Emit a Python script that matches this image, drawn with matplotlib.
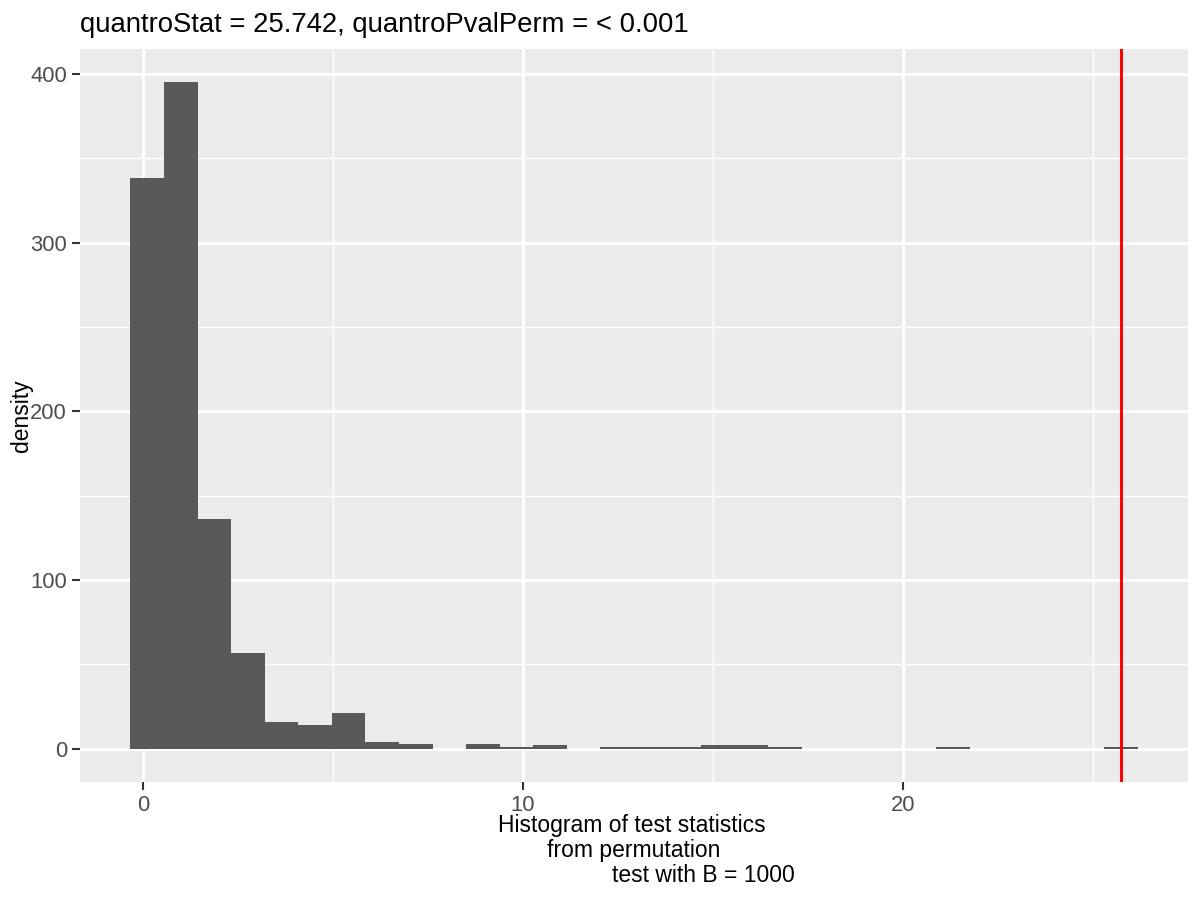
import numpy as np
import matplotlib
matplotlib.use("Agg")
import matplotlib.pyplot as plt
from matplotlib.ticker import FixedLocator

# ---- data ----
bin_counts = [338, 395, 136, 57, 16, 14, 21, 4, 3, 0,
              3, 1, 2, 0, 1, 1, 1, 2, 2, 1,
              0, 0, 0, 0, 1, 0, 0, 0, 0, 1]
stat_min = 0.100          # smallest permutation statistic (center of first bin)
stat_max = 25.742         # largest statistic (center of last bin)
quantro_stat = 25.742
title_text = "quantroStat = 25.742, quantroPvalPerm = < 0.001"
x_ticks = [0, 10, 20]
y_ticks = [0, 100, 200, 300, 400]
x_label_lines = ["Histogram of test statistics", "from permutation", "test with B = 1000"]
y_label = "density"

# ---- style ----
plt.rcParams['font.family'] = ['Liberation Sans', 'DejaVu Sans']
BG = "#EBEBEB"
BAR = "#595959"
TICKCOL = "#4D4D4D"
TICKLINE = "#333333"

fig = plt.figure(figsize=(8, 6), dpi=150)
W, H = 1200, 900
left, right, top, bottom = 80, 1188, 49, 782
ax = fig.add_axes([left / W, 1 - bottom / H, (right - left) / W, (bottom - top) / H])
ax.set_facecolor(BG)

n_bins = len(bin_counts)
width = (stat_max - stat_min) / (n_bins - 1)
centers = stat_min + width * np.arange(n_bins)
ax.bar(centers, bin_counts, width=width, color=BAR, linewidth=0, zorder=3)
ax.axvline(quantro_stat, color="red", linewidth=1.42, zorder=4)

# limits with ggplot-like 5% expansion
xlo = min(centers[0] - width / 2, quantro_stat)
xhi = max(centers[-1] + width / 2, quantro_stat)
xr = xhi - xlo
ax.set_xlim(xlo - 0.05 * xr, xhi + 0.05 * xr)
ymax = max(bin_counts)
ax.set_ylim(-0.05 * ymax, ymax * 1.05)

ax.xaxis.set_major_locator(FixedLocator(x_ticks))
ax.yaxis.set_major_locator(FixedLocator(y_ticks))
ax.xaxis.set_minor_locator(FixedLocator([5, 15, 25]))
ax.yaxis.set_minor_locator(FixedLocator([50, 150, 250, 350]))
ax.grid(which="major", color="white", linewidth=1.42, zorder=0)
ax.grid(which="minor", color="white", linewidth=0.71, zorder=0)
ax.set_axisbelow(True)
for s in ax.spines.values():
    s.set_visible(False)
ax.tick_params(which="major", length=4, width=1.0, color=TICKLINE,
               labelcolor=TICKCOL, labelsize=13.2 * 0.8, pad=2.2)
ax.tick_params(which="minor", length=0)
ax.set_xticklabels([str(t) for t in x_ticks])
ax.set_yticklabels([str(t) for t in y_ticks])

# y label
fig.text(21 / W, 1 - ((top + bottom) / 2) / H, y_label, rotation=90,
         ha="center", va="center", fontsize=11 * 1.0, color="black")

# title
fig.text(left / W, 1 - 32 / H, title_text, ha="left", va="baseline",
         fontsize=13.2, color="black")

# x label, three lines as in the reference
line_centers = [632, 634, 703]
line_baselines = [832, 857, 882]
for txt, cx, by in zip(x_label_lines, line_centers, line_baselines):
    fig.text(cx / W, 1 - by / H, txt, ha="center", va="baseline",
             fontsize=11, color="black")

fig.savefig("out.png", dpi=150, facecolor="white")
